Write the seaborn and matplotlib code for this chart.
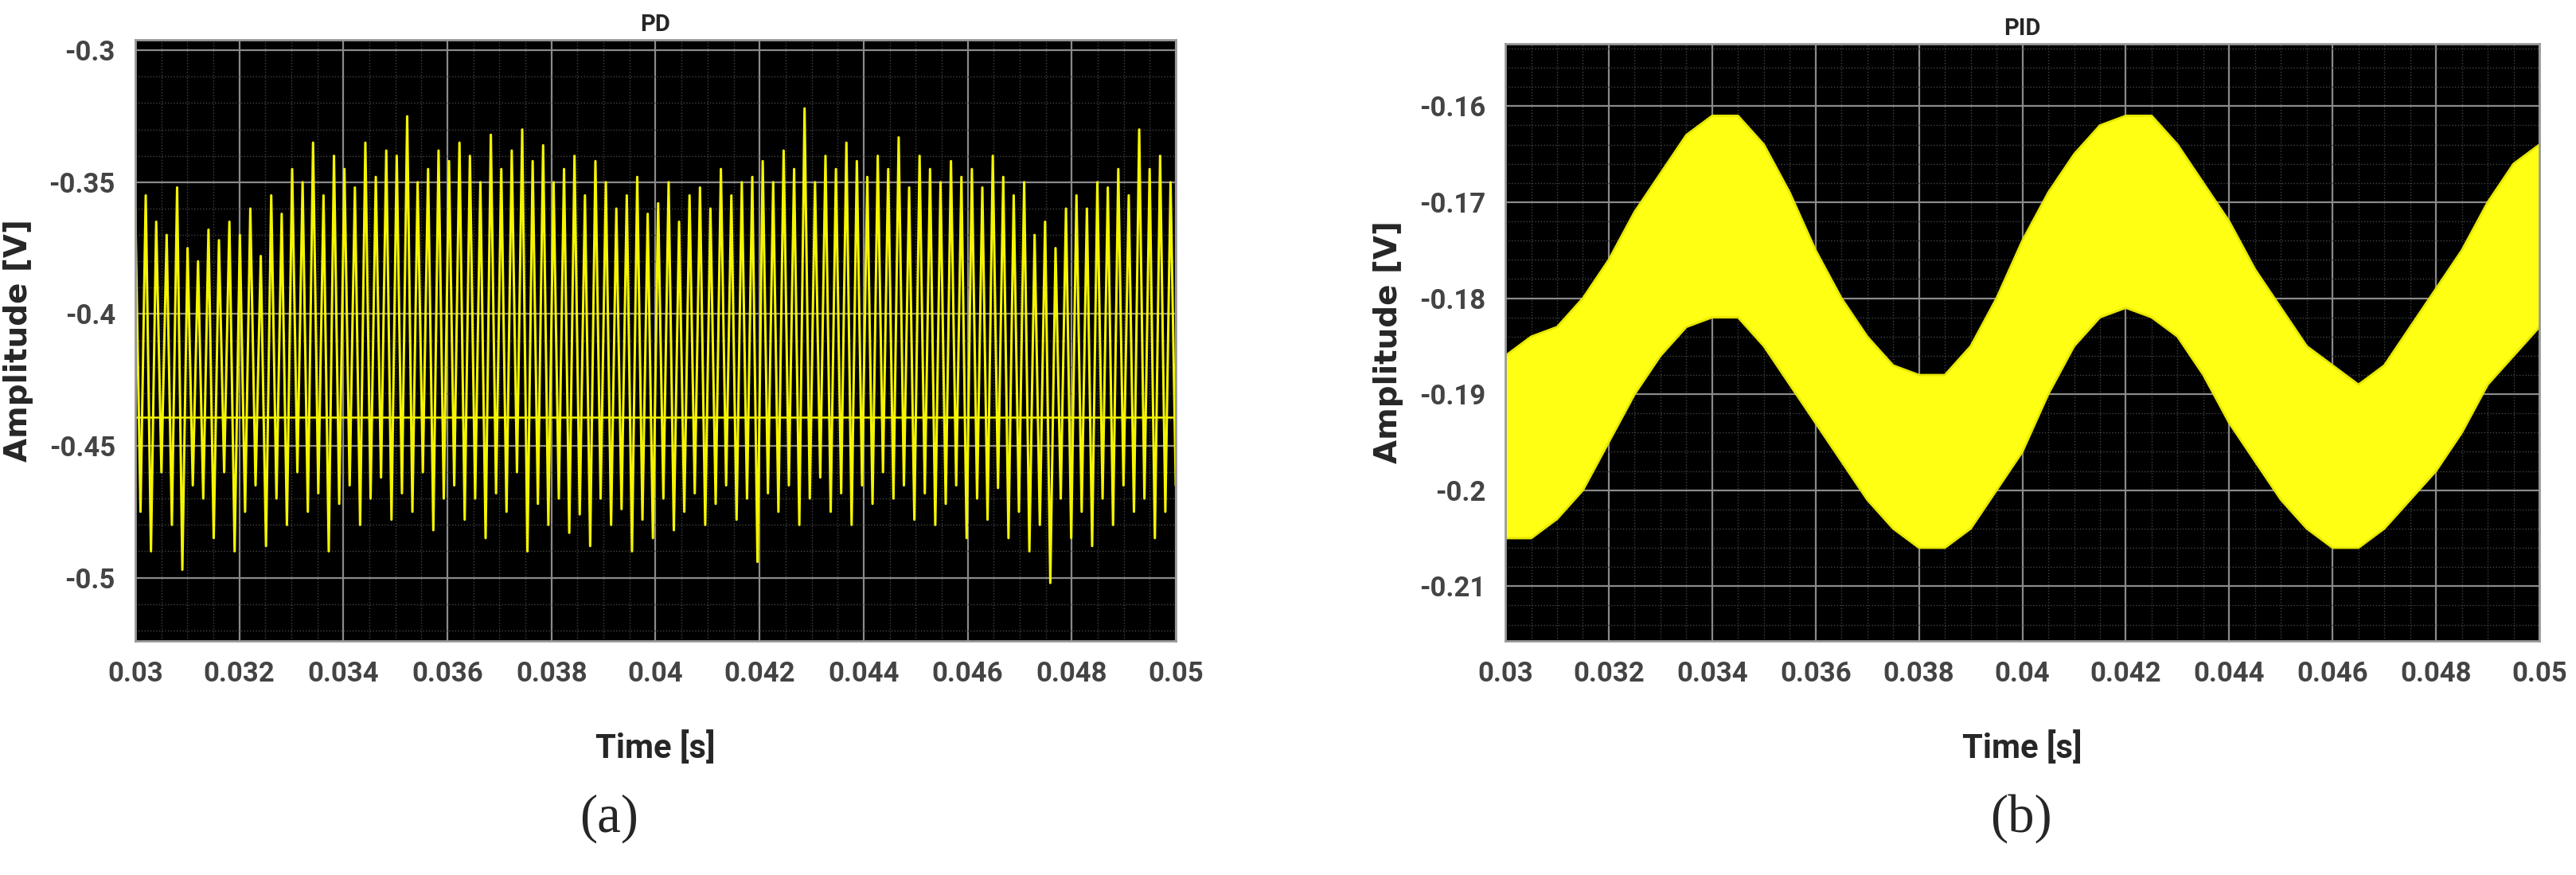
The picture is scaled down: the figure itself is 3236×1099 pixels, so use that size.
import numpy as np
import matplotlib
matplotlib.use("Agg")
import matplotlib.pyplot as plt
import seaborn as sns
from matplotlib.ticker import AutoMinorLocator

# PD: successive crests and troughs of the fast oscillation
PD_PEAKS = [-0.36, -0.355, -0.365, -0.37, -0.352, -0.375, -0.38, -0.368, -0.372, -0.365,
            -0.37, -0.36, -0.378, -0.355, -0.362, -0.345, -0.35, -0.335, -0.355, -0.34,
            -0.345, -0.352, -0.335, -0.348, -0.338, -0.34, -0.325, -0.35, -0.345, -0.338,
            -0.342, -0.335, -0.34, -0.35, -0.332, -0.345, -0.338, -0.33, -0.342, -0.336,
            -0.35, -0.345, -0.34, -0.355, -0.342, -0.35, -0.36, -0.355, -0.348, -0.362,
            -0.358, -0.35, -0.365, -0.355, -0.352, -0.36, -0.345, -0.355, -0.35, -0.348,
            -0.342, -0.35, -0.338, -0.345, -0.322, -0.35, -0.34, -0.345, -0.335, -0.342,
            -0.348, -0.34, -0.345, -0.333, -0.352, -0.34, -0.345, -0.35, -0.342, -0.348,
            -0.345, -0.352, -0.34, -0.348, -0.355, -0.35, -0.37, -0.365, -0.375, -0.36,
            -0.355, -0.36, -0.35, -0.352, -0.345, -0.355, -0.33, -0.345, -0.34, -0.35]
PD_TROUGHS = [-0.475, -0.49, -0.46, -0.48, -0.497, -0.465, -0.47, -0.485, -0.46, -0.49,
              -0.475, -0.465, -0.488, -0.47, -0.48, -0.46, -0.475, -0.468, -0.49, -0.472,
              -0.465, -0.48, -0.47, -0.462, -0.478, -0.468, -0.475, -0.46, -0.482, -0.47,
              -0.465, -0.478, -0.47, -0.485, -0.468, -0.475, -0.46, -0.49, -0.472, -0.48,
              -0.47, -0.483, -0.476, -0.488, -0.47, -0.48, -0.474, -0.49, -0.478, -0.485,
              -0.47, -0.482, -0.475, -0.468, -0.48, -0.472, -0.465, -0.478, -0.47, -0.494,
              -0.468, -0.475, -0.465, -0.48, -0.47, -0.462, -0.475, -0.468, -0.48, -0.465,
              -0.472, -0.46, -0.47, -0.465, -0.478, -0.468, -0.48, -0.472, -0.465, -0.485,
              -0.47, -0.478, -0.466, -0.485, -0.475, -0.49, -0.48, -0.502, -0.47, -0.485,
              -0.475, -0.488, -0.47, -0.48, -0.465, -0.475, -0.47, -0.485, -0.475, -0.465]
PD_BASELINE = -0.439

# PID: upper / lower edge of the yellow band, every 0.5 ms from 0.03 s
PID_UPPER = [-0.186, -0.184, -0.183, -0.180, -0.176, -0.171, -0.167, -0.163, -0.161, -0.161,
             -0.164, -0.169, -0.175, -0.180, -0.184, -0.187, -0.188, -0.188, -0.185, -0.180,
             -0.174, -0.169, -0.165, -0.162, -0.161, -0.161, -0.164, -0.168, -0.172, -0.177,
             -0.181, -0.185, -0.187, -0.189, -0.187, -0.183, -0.179, -0.175, -0.170, -0.166, -0.164]
PID_LOWER = [-0.205, -0.205, -0.203, -0.200, -0.195, -0.190, -0.186, -0.183, -0.182, -0.182,
             -0.185, -0.189, -0.193, -0.197, -0.201, -0.204, -0.206, -0.206, -0.204, -0.200,
             -0.196, -0.190, -0.185, -0.182, -0.181, -0.182, -0.184, -0.188, -0.193, -0.197,
             -0.201, -0.204, -0.206, -0.206, -0.204, -0.201, -0.198, -0.194, -0.189, -0.186, -0.183]

XTICKS = [0.03, 0.032, 0.034, 0.036, 0.038, 0.04, 0.042, 0.044, 0.046, 0.048, 0.05]
XTICKLABELS = ["0.03", "0.032", "0.034", "0.036", "0.038", "0.04", "0.042",
               "0.044", "0.046", "0.048", "0.05"]


def style_axes(ax, title, yticks, ylabels, ylim):
    ax.set_facecolor("black")
    ax.set_xlim(0.03, 0.05)
    ax.set_ylim(*ylim)
    ax.set_xticks(XTICKS)
    ax.set_xticklabels(XTICKLABELS)
    ax.set_yticks(yticks)
    ax.set_yticklabels(ylabels)
    ax.xaxis.set_minor_locator(AutoMinorLocator(4))
    ax.yaxis.set_minor_locator(AutoMinorLocator(5))
    ax.set_axisbelow(True)
    ax.grid(True, which="major", color="#8a8a8a", lw=1.6, ls="-")
    ax.grid(True, which="minor", color="#444444", lw=1.0, ls=":")
    ax.tick_params(which="both", length=0, labelsize=25, labelcolor="#444444", pad=18)
    for lab in ax.get_xticklabels() + ax.get_yticklabels():
        lab.set_fontweight("bold")
        lab.set_family("Roboto")
    for s in ax.spines.values():
        s.set_color("#999999")
        s.set_linewidth(2)
    ax.set_title(title, fontsize=21, fontweight="bold", pad=8, family="Roboto")
    ax.set_xlabel("Time [s]", fontsize=30, fontweight="bold", labelpad=40, family="Roboto")
    ax.set_ylabel("Amplitude [V]", fontsize=28, fontweight="bold", labelpad=14)


def main():
    sns.set_style("dark")
    fig = plt.figure(figsize=(32.37, 10.99), dpi=100)
    ax1 = fig.add_axes([0.0525, 0.2675, 0.4038, 0.687])
    ax2 = fig.add_axes([0.5842, 0.2675, 0.4013, 0.6825])

    # PD trace: alternate crest / trough samples
    pd_sig = np.ravel(np.column_stack([PD_PEAKS, PD_TROUGHS]))
    t_pd = np.linspace(0.03, 0.05, len(pd_sig))
    sns.lineplot(x=t_pd, y=pd_sig, ax=ax1, color="#f5f500", lw=2.2)
    ax1.axhline(PD_BASELINE, color="#f5f500", lw=1.8)
    style_axes(ax1, "PD", [-0.3, -0.35, -0.4, -0.45, -0.5],
               ["-0.3", "-0.35", "-0.4", "-0.45", "-0.5"], (-0.524, -0.296))

    t_pid = np.linspace(0.03, 0.05, len(PID_UPPER))
    ax2.fill_between(t_pid, PID_LOWER, PID_UPPER, color="#ffff14", lw=0)
    sns.lineplot(x=t_pid, y=PID_UPPER, ax=ax2, color="#e8e800", lw=2)
    sns.lineplot(x=t_pid, y=PID_LOWER, ax=ax2, color="#e8e800", lw=2)
    style_axes(ax2, "PID", [-0.16, -0.17, -0.18, -0.19, -0.2, -0.21],
               ["-0.16", "-0.17", "-0.18", "-0.19", "-0.2", "-0.21"], (-0.2157, -0.1535))

    fig.text(0.2365, 0.05, "(a)", ha="center", fontsize=48, family="Liberation Serif")
    fig.text(0.7845, 0.05, "(b)", ha="center", fontsize=48, family="Liberation Serif")

    fig.savefig("out.png", dpi=100, facecolor="white")
    plt.close(fig)


if __name__ == "__main__":
    main()
